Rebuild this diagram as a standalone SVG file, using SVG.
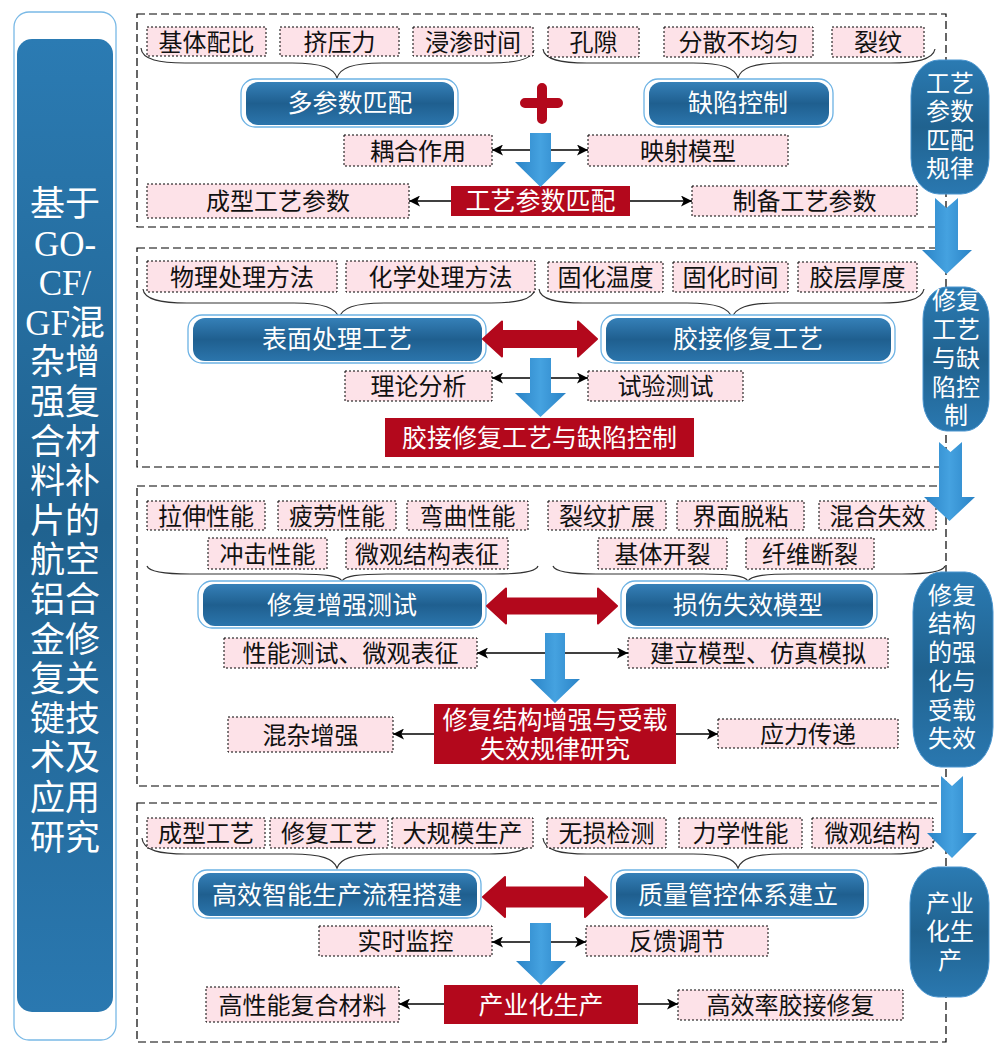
<svg xmlns="http://www.w3.org/2000/svg" width="1002" height="1056" viewBox="0 0 1002 1056">
<defs>
<linearGradient id="gBlue" x1="0" y1="0" x2="0" y2="1">
<stop offset="0" stop-color="#3580b8"/><stop offset="0.5" stop-color="#1f5f8f"/><stop offset="1" stop-color="#2b75ac"/>
</linearGradient>
<linearGradient id="gPanel" x1="0" y1="0" x2="0" y2="1">
<stop offset="0" stop-color="#2b7bb3"/><stop offset="0.5" stop-color="#20628f"/><stop offset="1" stop-color="#2a78b0"/>
</linearGradient>
<linearGradient id="gArrow" x1="0" y1="0" x2="1" y2="0">
<stop offset="0" stop-color="#2a83c6"/><stop offset="0.5" stop-color="#45a2e0"/><stop offset="1" stop-color="#2a83c6"/>
</linearGradient>
<marker id="ah" viewBox="0 0 10 10" refX="10" refY="5" markerWidth="11" markerHeight="11" markerUnits="userSpaceOnUse" orient="auto-start-reverse">
<path d="M0,0 L10,5 L0,10 L2.5,5 z" fill="#000"/>
</marker>
</defs>
<style>
text{font-family:"Liberation Serif","Noto Sans CJK SC",serif;text-anchor:middle}
.frame{fill:none;stroke:#000;stroke-width:1.2;stroke-dasharray:8 4}
.lbl rect{fill:#fde2e8;stroke:#000;stroke-width:1;stroke-dasharray:2 2}
.lbl text{font-size:24px;fill:#111}
.node .outer{fill:#fff;stroke:#6cb2e4;stroke-width:1.3}
.node .inner{fill:url(#gBlue)}
.node text{fill:#fff;font-size:25px}
.red rect{fill:#b3081c}
.red text{fill:#fff;font-size:25px}
.brace{fill:none;stroke:#333;stroke-width:1.2}
.conn{stroke:#000;stroke-width:1.5;fill:none;marker-end:url(#ah)}
.dbl{marker-start:url(#ah)}
.blk{fill:url(#gArrow)}
.rda{fill:#b3081c;stroke:#b3081c;stroke-width:2;stroke-linejoin:round}
.loz path,.loz rect{fill:url(#gPanel);stroke:#4a95cf;stroke-width:1}
.loz text{fill:#fff;font-size:24px}
</style>
<rect width="1002" height="1056" fill="#fff"/>

<!-- left title panel -->
<g id="title">
<rect x="14" y="12" width="102" height="1028" rx="15" fill="#fff" stroke="#79b9e6" stroke-width="1.3"/>
<rect x="17" y="39" width="96" height="973" rx="15" fill="url(#gPanel)"/>
<text x="65" y="216" font-size="35" fill="#fff"><tspan x="65">基于</tspan><tspan x="65" dy="39.6">GO-</tspan><tspan x="65" dy="39.6">CF/</tspan><tspan x="65" dy="39.6">GF混</tspan><tspan x="65" dy="39.6">杂增</tspan><tspan x="65" dy="39.6">强复</tspan><tspan x="65" dy="39.6">合材</tspan><tspan x="65" dy="39.6">料补</tspan><tspan x="65" dy="39.6">片的</tspan><tspan x="65" dy="39.6">航空</tspan><tspan x="65" dy="39.6">铝合</tspan><tspan x="65" dy="39.6">金修</tspan><tspan x="65" dy="39.6">复关</tspan><tspan x="65" dy="39.6">键技</tspan><tspan x="65" dy="39.6">术及</tspan><tspan x="65" dy="39.6">应用</tspan><tspan x="65" dy="39.6">研究</tspan></text>
</g>

<!-- frames -->
<g id="frames">
<rect class="frame" x="137" y="14" width="809" height="213"/>
<rect class="frame" x="137" y="248" width="809" height="219"/>
<rect class="frame" x="137" y="486" width="809" height="300"/>
<rect class="frame" x="137" y="803" width="809" height="239"/>
</g>

<!-- braces -->
<g id="braces">
<path class="brace" d="M141,48 C142,60 160,63 185,63 L292,63 C322,63 334,68 337,78 C340,68 352,63 382,63 L490,63 C515,63 532,60 534,50"/>
<path class="brace" d="M543,49 C544,60 562,63 587,63 L693,63 C723,63 735,68 738,78 C741,68 753,63 783,63 L890,63 C915,63 933,60 935,49"/>
<path class="brace" d="M143,289 C144,300 162,303 187,303 L294,303 C324,303 336,308 339,318 C342,308 354,303 384,303 L491,303 C516,303 533,300 535,289"/>
<path class="brace" d="M539,289 C540,300 558,303 583,303 L687,303 C717,303 729,308 732,318 C735,308 747,303 777,303 L880,303 C905,303 922,300 924,289"/>
<path class="brace" d="M147,566 C149,572 165,574 190,574 L297,574 C327,574 339,576 342,581 C345,576 357,574 387,574 L495,574 C520,574 536,572 538,566"/>
<path class="brace" d="M553,566 C555,572 571,574 596,574 L703,574 C733,574 745,576 748,581 C751,576 763,574 793,574 L902,574 C927,574 943,572 945,566"/>
<path class="brace" d="M142,838 C143,851 161,854 186,854 L292,854 C322,854 334,859 337,868 C340,859 352,854 382,854 L489,854 C514,854 531,851 533,838"/>
<path class="brace" d="M543,838 C544,851 562,854 587,854 L693,854 C723,854 735,859 738,868 C741,859 753,854 783,854 L891,854 C916,854 933,851 935,838"/>
</g>

<!-- section 1 -->
<g id="l-jtpb" class="lbl"><rect x="147" y="27" width="119" height="29"/><text x="206.5" y="50.5">基体配比</text></g>
<g id="l-jyl" class="lbl"><rect x="280" y="27" width="119" height="29"/><text x="339.5" y="50.5">挤压力</text></g>
<g id="l-jssj" class="lbl"><rect x="413" y="27" width="120" height="29"/><text x="473" y="50.5">浸渗时间</text></g>
<g id="l-kx" class="lbl"><rect x="548" y="27" width="91" height="30"/><text x="593.5" y="51">孔隙</text></g>
<g id="l-fsbjy" class="lbl"><rect x="664" y="27" width="149" height="30"/><text x="738.5" y="51">分散不均匀</text></g>
<g id="l-lw" class="lbl"><rect x="832" y="27" width="92" height="30"/><text x="878" y="51">裂纹</text></g>
<g id="n-dcspp" class="node"><rect class="outer" x="241" y="79" width="217" height="48" rx="14"/><rect class="inner" x="246" y="82" width="208" height="43" rx="12"/><text x="350" y="112">多参数匹配</text></g>
<g id="n-qxkz" class="node"><rect class="outer" x="644" y="79" width="189" height="48" rx="14"/><rect class="inner" x="649" y="82" width="180" height="43" rx="12"/><text x="738" y="112">缺陷控制</text></g>
<g id="plus"><path d="M525,103 H558 M542,88 V119" stroke="#b3081c" stroke-width="10" stroke-linecap="round" fill="none"/></g>
<g id="l-ohzy" class="lbl"><rect x="344" y="135" width="148" height="31"/><text x="418" y="159.5">耦合作用</text></g>
<g id="l-ysmx" class="lbl"><rect x="588" y="135" width="200" height="31"/><text x="688" y="159.5">映射模型</text></g>
<g id="r-gycspp" class="red"><rect x="451" y="186" width="179" height="30"/><text x="540.5" y="210">工艺参数匹配</text></g>
<g id="l-cxgycs" class="lbl"><rect x="147" y="184" width="262" height="34"/><text x="278" y="210">成型工艺参数</text></g>
<g id="l-zbgycs" class="lbl"><rect x="692" y="186" width="225" height="30"/><text x="804.5" y="210">制备工艺参数</text></g>

<!-- section 2 -->
<g id="l-wlcl" class="lbl"><rect x="147" y="261" width="190" height="31"/><text x="242" y="285.5">物理处理方法</text></g>
<g id="l-hxcl" class="lbl"><rect x="346" y="261" width="189" height="31"/><text x="440.5" y="285.5">化学处理方法</text></g>
<g id="l-ghwd" class="lbl"><rect x="548" y="262" width="115" height="30"/><text x="605.5" y="286">固化温度</text></g>
<g id="l-ghsj" class="lbl"><rect x="673" y="262" width="115" height="30"/><text x="730.5" y="286">固化时间</text></g>
<g id="l-jchd" class="lbl"><rect x="798" y="262" width="119" height="30"/><text x="857.5" y="286">胶层厚度</text></g>
<g id="n-bmcl" class="node"><rect class="outer" x="188" y="315" width="298" height="48" rx="14"/><rect class="inner" x="193" y="318" width="289" height="43" rx="12"/><text x="337" y="348">表面处理工艺</text></g>
<g id="n-jjxf" class="node"><rect class="outer" x="601" y="315" width="294" height="48" rx="14"/><rect class="inner" x="606" y="318" width="285" height="43" rx="12"/><text x="748" y="348">胶接修复工艺</text></g>
<g id="l-llfx" class="lbl"><rect x="345" y="371" width="147" height="30"/><text x="418.5" y="395">理论分析</text></g>
<g id="l-sycs" class="lbl"><rect x="588" y="371" width="155" height="30"/><text x="665.5" y="395">试验测试</text></g>
<g id="r-jjxfqx" class="red"><rect x="385" y="418" width="309" height="39"/><text x="539.5" y="447">胶接修复工艺与缺陷控制</text></g>

<!-- section 3 -->
<g id="l-lsxn" class="lbl"><rect x="147" y="501" width="118" height="29"/><text x="206" y="524.5">拉伸性能</text></g>
<g id="l-plxn" class="lbl"><rect x="278" y="501" width="118" height="29"/><text x="337" y="524.5">疲劳性能</text></g>
<g id="l-wqxn" class="lbl"><rect x="407" y="501" width="121" height="29"/><text x="467.5" y="524.5">弯曲性能</text></g>
<g id="l-lwkz" class="lbl"><rect x="548" y="501" width="118" height="29"/><text x="607" y="524.5">裂纹扩展</text></g>
<g id="l-jmtn" class="lbl"><rect x="677" y="501" width="127" height="29"/><text x="740.5" y="524.5">界面脱粘</text></g>
<g id="l-hhsx" class="lbl"><rect x="819" y="501" width="117" height="29"/><text x="877.5" y="524.5">混合失效</text></g>
<g id="l-cjxn" class="lbl"><rect x="208" y="538" width="119" height="31"/><text x="267.5" y="562.5">冲击性能</text></g>
<g id="l-wgjg" class="lbl"><rect x="346" y="538" width="162" height="31"/><text x="427" y="562.5">微观结构表征</text></g>
<g id="l-jtkl" class="lbl"><rect x="598" y="538" width="129" height="31"/><text x="662.5" y="562.5">基体开裂</text></g>
<g id="l-xwdl" class="lbl"><rect x="746" y="538" width="128" height="31"/><text x="810" y="562.5">纤维断裂</text></g>
<g id="n-xfzqcs" class="node"><rect class="outer" x="198" y="581" width="288" height="47" rx="14"/><rect class="inner" x="203" y="584" width="279" height="42" rx="12"/><text x="342" y="614">修复增强测试</text></g>
<g id="n-sssxmx" class="node"><rect class="outer" x="621" y="581" width="256" height="47" rx="14"/><rect class="inner" x="626" y="584" width="247" height="42" rx="12"/><text x="748" y="614">损伤失效模型</text></g>
<g id="l-xncs" class="lbl"><rect x="224" y="638" width="253" height="30"/><text x="350.5" y="662">性能测试、微观表征</text></g>
<g id="l-jlmx" class="lbl"><rect x="628" y="638" width="260" height="30"/><text x="758" y="662">建立模型、仿真模拟</text></g>
<g id="r-xfjg" class="red"><rect x="434" y="704" width="242" height="60"/><text x="555" y="728.5">修复结构增强与受载</text><text x="555" y="757.5">失效规律研究</text></g>
<g id="l-hzzq" class="lbl"><rect x="228" y="717" width="165" height="35"/><text x="310.5" y="743.5">混杂增强</text></g>
<g id="l-ylcd" class="lbl"><rect x="718" y="719" width="180" height="29"/><text x="808" y="742.5">应力传递</text></g>

<!-- section 4 -->
<g id="l-cxgy" class="lbl"><rect x="147" y="818" width="118" height="30"/><text x="206" y="842">成型工艺</text></g>
<g id="l-xfgy" class="lbl"><rect x="270" y="818" width="118" height="30"/><text x="329" y="842">修复工艺</text></g>
<g id="l-dgmsc" class="lbl"><rect x="392" y="818" width="141" height="30"/><text x="462.5" y="842">大规模生产</text></g>
<g id="l-wsjc" class="lbl"><rect x="547" y="818" width="119" height="30"/><text x="606.5" y="842">无损检测</text></g>
<g id="l-lxxn" class="lbl"><rect x="679" y="818" width="123" height="30"/><text x="740.5" y="842">力学性能</text></g>
<g id="l-wgjg2" class="lbl"><rect x="812" y="818" width="121" height="30"/><text x="872.5" y="842">微观结构</text></g>
<g id="n-gxzn" class="node"><rect class="outer" x="193" y="870" width="288" height="48" rx="14"/><rect class="inner" x="198" y="873" width="279" height="43" rx="12"/><text x="337" y="903.5">高效智能生产流程搭建</text></g>
<g id="n-zlgk" class="node"><rect class="outer" x="611" y="870" width="257" height="48" rx="14"/><rect class="inner" x="616" y="873" width="248" height="43" rx="12"/><text x="738" y="903.5">质量管控体系建立</text></g>
<g id="l-sshk" class="lbl"><rect x="319" y="926" width="173" height="30"/><text x="405.5" y="950">实时监控</text></g>
<g id="l-fktj" class="lbl"><rect x="586" y="926" width="182" height="30"/><text x="677" y="950">反馈调节</text></g>
<g id="r-cyhsc" class="red"><rect x="444" y="985" width="194" height="39"/><text x="541" y="1014">产业化生产</text></g>
<g id="l-gxnfh" class="lbl"><rect x="206" y="987" width="193" height="35"/><text x="302.5" y="1013.5">高性能复合材料</text></g>
<g id="l-gxljj" class="lbl"><rect x="678" y="990" width="225" height="30"/><text x="790.5" y="1014">高效率胶接修复</text></g>

<!-- right stage lozenges -->
<g id="z-1" class="loz"><rect x="911" y="60" width="78" height="134" rx="28" ry="36"/><text x="950" y="92">工艺</text><text x="950" y="120">参数</text><text x="950" y="149">匹配</text><text x="950" y="177">规律</text></g>
<g id="z-2" class="loz"><rect x="923" y="287" width="66" height="144" rx="24" ry="32"/><text x="956" y="309">修复</text><text x="956" y="338">工艺</text><text x="956" y="367">与缺</text><text x="956" y="396">陷控</text><text x="956" y="424">制</text></g>
<g id="z-3" class="loz"><rect x="913" y="572" width="80" height="195" rx="28" ry="40"/><text x="952" y="604">修复</text><text x="952" y="632">结构</text><text x="952" y="661">的强</text><text x="952" y="690">化与</text><text x="952" y="719">受载</text><text x="952" y="747">失效</text></g>
<g id="z-4" class="loz"><rect x="910" y="867" width="79" height="130" rx="28" ry="36"/><text x="950" y="912">产业</text><text x="950" y="940">化生</text><text x="950" y="969">产</text></g>

<!-- connectors -->
<g id="connectors">
<line class="conn dbl" x1="492" y1="150" x2="588" y2="150"/>
<line class="conn" x1="451" y1="201" x2="409" y2="201"/>
<line class="conn" x1="630" y1="201" x2="692" y2="201"/>
<line class="conn dbl" x1="492" y1="378" x2="588" y2="378"/>
<line class="conn dbl" x1="477" y1="653" x2="628" y2="653"/>
<line class="conn" x1="434" y1="734" x2="393" y2="734"/>
<line class="conn" x1="676" y1="734" x2="718" y2="734"/>
<line class="conn dbl" x1="492" y1="942" x2="586" y2="942"/>
<line class="conn" x1="444" y1="1004" x2="399" y2="1004"/>
<line class="conn" x1="638" y1="1004" x2="678" y2="1004"/>
<polygon class="blk" points="530,133 551,133 551,162 566,162 540.5,187 515,162 530,162"/>
<polygon class="blk" points="530,358 551,358 551,393 566,393 540.5,417 515,393 530,393"/>
<polygon class="blk" points="545,633 565,633 565,679 580,679 555,703 530,679 545,679"/>
<polygon class="blk" points="530,923 551,923 551,961 566,961 541,985 516,961 530,961"/>
<polygon class="rda" points="483,339 502,321.5 502,331 578,331 578,321.5 597,339 578,356.5 578,347 502,347 502,356.5"/>
<polygon class="rda" points="487,606 506,588.5 506,598.5 598,598.5 598,588.5 617,606 598,623.5 598,613.5 506,613.5 506,623.5"/>
<polygon class="rda" points="483,897 505,877 505,887.5 585,887.5 585,877 607,897 585,917 585,906.5 505,906.5 505,917"/>
<polygon class="blk" points="935,198 946.5,208 958,198 958,250 972,250 946.5,274 922,250 935,250"/>
<polygon class="blk" points="939,442 950.5,452 962,442 962,497 975,497 949.5,521 924,497 939,497"/>
<polygon class="blk" points="941,776 952,786 963,776 963,833 977,833 952,858 927,833 941,833"/>
</g>
</svg>
